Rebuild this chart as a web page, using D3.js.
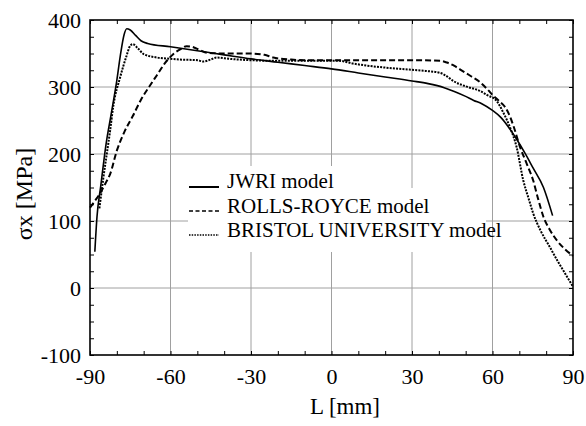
<!DOCTYPE html>
<html>
  <head>
	  <meta charset="utf-8">
	  <script src="https://d3js.org/d3.v7.min.js"></script>
	  <style type="text/css">
body{
	margin: 0;
	background: white;
	font-family: Liberation Serif;
}
svg{
	display: block;
}
.grid line{
	stroke: #a0a0a0;
	stroke-width: 1;
}
.axis path{
	display: none;
}
.axis line{
	stroke: black;
	stroke-width: 1;
}
	  </style>
  </head>
  <body>
	<script>
		// tick values
		var x_ticks = [-90, -60, -30, 0, 30, 60, 90]
		var y_ticks = [-100, 0, 100, 200, 300, 400]

		// JWRI model (solid)
		var jwri_L = [-88.2, -87.4, -86, -84, -82, -80, -78.5, -77.3, -76.3, -75, -73, -71, -68.5, -60, -50, -40, -30, -20, -10, 0, 10, 20, 30, 36, 42, 46, 50, 53, 56, 60, 63, 66, 69, 72, 75, 79, 82.4]
		var jwri_s = [54, 106, 152, 215, 262, 310, 352, 378, 387, 385, 377, 369, 365, 360, 354, 348, 342, 337, 332, 327, 321, 315, 309, 305, 299, 293, 286, 280, 275, 265, 255, 240, 222, 202, 180, 150, 108]

		// ROLLS-ROYCE model (dashed)
		var rr_L = [-90, -88, -86.3, -84, -82.5, -80, -77.3, -74, -71, -68, -65, -62, -59, -56, -54, -52, -49, -46.5, -40, -30.4, -25, -21.7, -15, -10, 0, 10, 20, 30, 40.5, 43, 46, 48, 52, 55.4, 58, 60.3, 62.5, 64.7, 66.5, 67.8, 70.3, 72.8, 75.2, 77, 79, 81.5, 84, 87, 90]
		var rr_s = [120, 131, 141, 158, 170, 205, 232, 257, 281, 300, 318, 336, 349, 357, 361, 360, 355, 351, 350, 350, 348, 344, 341, 340, 340, 340, 340, 340, 339, 336.5, 331, 326, 316, 307, 297, 287, 279, 270, 256, 242, 210, 185, 160, 133, 106, 86, 71, 58, 48]

		// BRISTOL UNIVERSITY model (dotted)
		var br_L = [-86.5, -85, -82.5, -81.3, -78.8, -76.5, -75.1, -74.1, -72, -70, -65, -60, -56.5, -50, -47.8, -45, -42.8, -38, -30, -20, -10, 0, 3, 8, 13, 20, 29, 35, 40.5, 43, 45.4, 50, 55.4, 58, 61.6, 64, 66.5, 69, 71.5, 73.5, 75.2, 78, 81.4, 84, 86.4, 88.5, 90]
		var br_s = [119, 165, 235, 272, 314, 345, 361, 364, 357, 349, 344, 342, 341, 340, 338, 341, 344, 342, 340, 339, 339, 339, 339, 335, 332, 329, 326, 324, 321, 316, 309, 301, 294, 288, 279, 262, 240, 210, 160, 133, 111, 85, 61, 42, 26, 12, 2]

		var legend_names = ["JWRI model", "ROLLS-ROYCE model", "BRISTOL UNIVERSITY model"]
		var dash_styles = ["none", "6,3", "2,1.2"]

		var series = [
			d3.zip(jwri_L, jwri_s),
			d3.zip(rr_L, rr_s),
			d3.zip(br_L, br_s)
		]

		var width = 586, height = 426
		var serif = "Liberation Serif"

		var x = d3.scaleLinear().domain([-90, 90]).range([90, 573])
		var y = d3.scaleLinear().domain([-100, 400]).range([355, 20])

		var svg = d3.select("body")
			.append("svg")
			.attr("width", width)
			.attr("height", height)
			.attr("font-family", serif)

		// grid lines
		var grid = svg.append("g").attr("class", "grid")
		grid.selectAll(".vgrid")
			.data(x_ticks.slice(1, -1))
			.enter()
			.append("line")
			.attr("x1", function(d){ return x(d) })
			.attr("x2", function(d){ return x(d) })
			.attr("y1", y(400))
			.attr("y2", y(-100))
		grid.selectAll(".hgrid")
			.data(y_ticks.slice(1, -1))
			.enter()
			.append("line")
			.attr("x1", x(-90))
			.attr("x2", x(90))
			.attr("y1", function(d){ return y(d) })
			.attr("y2", function(d){ return y(d) })

		// white background behind the legend
		svg.append("rect")
			.attr("x", 188).attr("y", 166)
			.attr("width", 212).attr("height", 24)
			.attr("fill", "white")
		svg.append("rect")
			.attr("x", 188).attr("y", 188)
			.attr("width", 298).attr("height", 64)
			.attr("fill", "white")

		// curves
		var line = d3.line()
			.x(function(d){ return x(d[0]) })
			.y(function(d){ return y(d[1]) })
			.curve(d3.curveMonotoneX)

		svg.selectAll(".curve")
			.data(series)
			.enter()
			.append("path")
			.attr("class", "curve")
			.attr("d", line)
			.attr("fill", "none")
			.attr("stroke", "black")
			.attr("stroke-width", function(d, i){ return i == 0 ? 1.6 : 2 })
			.attr("stroke-dasharray", function(d, i){ return dash_styles[i] })

		// axes with inward ticks every 10 mm / 25 MPa
		var x_minor = d3.range(-90, 91, 10)
		var y_minor = d3.range(-100, 401, 25)

		svg.append("g")
			.attr("class", "axis")
			.attr("transform", "translate(0," + y(-100) + ")")
			.call(d3.axisBottom(x).tickValues(x_minor).tickSize(-4).tickSizeOuter(0).tickPadding(13)
				.tickFormat(function(d){ return x_ticks.includes(d) ? d : "" }))
		svg.append("g")
			.attr("class", "axis")
			.attr("transform", "translate(0," + y(400) + ")")
			.call(d3.axisTop(x).tickValues(x_minor).tickSize(-4).tickSizeOuter(0).tickFormat(""))
		svg.append("g")
			.attr("class", "axis")
			.attr("transform", "translate(" + x(-90) + ",0)")
			.call(d3.axisLeft(y).tickValues(y_minor).tickSize(-4).tickSizeOuter(0).tickPadding(9)
				.tickFormat(function(d){ return y_ticks.includes(d) ? d : "" }))
		svg.append("g")
			.attr("class", "axis")
			.attr("transform", "translate(" + x(90) + ",0)")
			.call(d3.axisRight(y).tickValues(y_minor).tickSize(-4).tickSizeOuter(0).tickFormat(""))

		svg.selectAll(".axis").attr("font-family", serif).attr("font-size", 22)
		svg.selectAll(".axis text").attr("font-family", serif).attr("fill", "black")

		// frame
		svg.append("rect")
			.attr("x", x(-90)).attr("y", y(400))
			.attr("width", x(90) - x(-90))
			.attr("height", y(-100) - y(400))
			.attr("fill", "none")
			.attr("stroke", "black")
			.attr("stroke-width", 1.6)

		// legend
		var legend = svg.selectAll(".legend")
			.data(legend_names)
			.enter()
			.append("g")
			.attr("class", "legend")
			.attr("transform", function(d, i){ return "translate(189," + (188 + i * 24.5) + ")" })
		legend.append("line")
			.attr("x1", 0).attr("x2", 30)
			.attr("y1", function(d, i){ return -1 - i * 0.5 }).attr("y2", function(d, i){ return -1 - i * 0.5 })
			.attr("stroke", "black")
			.attr("stroke-width", function(d, i){ return i == 0 ? 2 : 1.6 })
			.attr("stroke-dasharray", function(d, i){ return i == 1 ? "4,2.5" : (i == 2 ? "1.5,1.2" : "none") })
		legend.append("text")
			.attr("x", 38)
			.attr("y", 0)
			.attr("font-family", serif)
			.attr("font-size", "21px")
			.text(function(d){ return d })

		// axis titles
		svg.append("text")
			.attr("x", 345)
			.attr("y", 414)
			.attr("text-anchor", "middle")
			.attr("font-family", serif)
			.attr("font-size", "23px")
			.text("L [mm]")
		svg.append("text")
			.attr("transform", "translate(32,194) rotate(-90)")
			.attr("text-anchor", "middle")
			.attr("font-family", serif)
			.attr("font-size", "24px")
			.text("σx [MPa]")
	</script>
  </body>
</html>
